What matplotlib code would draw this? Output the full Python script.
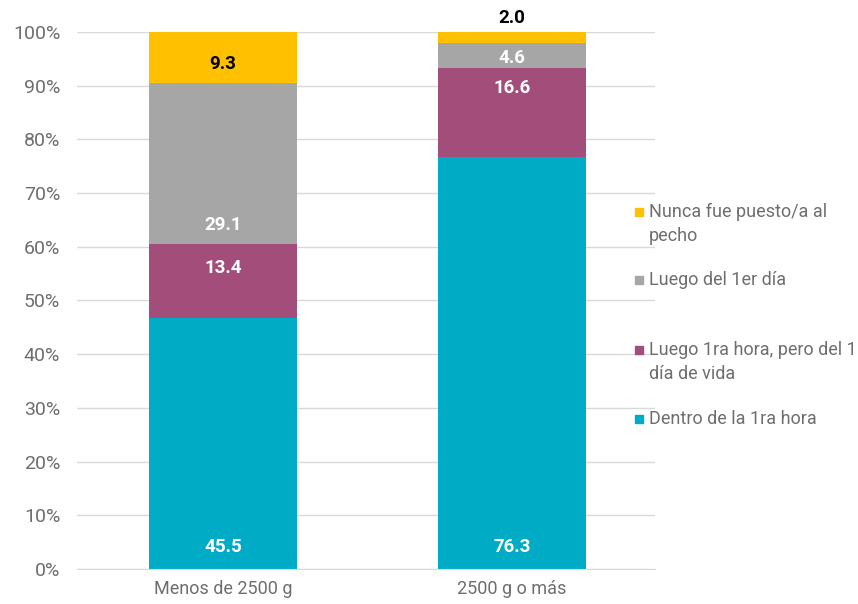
import matplotlib
matplotlib.use('Agg')
import matplotlib.pyplot as plt
from matplotlib.patches import Rectangle
import numpy as np

plt.rcParams['font.family'] = ['Roboto', 'DejaVu Sans']

categories = ['Menos de 2500 g', '2500 g o más']
series = ['Dentro de la 1ra hora',
          'Luego 1ra hora, pero del 1\ndía de vida',
          'Luego del 1er día',
          'Nunca fue puesto/a al\npecho']
dentro = [45.5, 76.3]
luego_hora = [13.4, 16.6]
luego_dia = [29.1, 4.6]
nunca = [9.3, 2.0]
colors = ['#00ABC6', '#A34D7A', '#A6A6A6', '#FFC000']
label_colors = ['white', 'white', 'white', 'black']

# where each value label sits, in % of the axis (per series, per bar)
label_y = [[4, 4], [56, 89.5], [64, 95.2], [94, 102.6]]

values = np.array([dentro, luego_hora, luego_dia, nunca])
shares = values / values.sum(axis=0) * 100

fig = plt.figure(figsize=(8.58, 6.04), dpi=100)
ax = fig.add_axes([0.0897, 0.058, 0.6737, 0.889])

x = np.arange(len(categories))
bottom = np.zeros(len(categories))
for i, name in enumerate(series):
    ax.bar(x + 0.005, shares[i], 0.51, bottom=bottom, color=colors[i], zorder=2)
    for j in range(len(categories)):
        ax.text(x[j] + 0.005, label_y[i][j], f'{values[i][j]:.1f}', ha='center',
                va='center', fontsize=13.5, fontweight='bold',
                color=label_colors[i], zorder=3, clip_on=False)
    bottom += shares[i]

ax.set_xlim(-0.5, 1.5)
ax.set_ylim(0, 100)
ax.set_yticks(np.arange(0, 101, 10))
ax.set_yticklabels([f'{v}%' for v in range(0, 101, 10)])
ax.set_xticks(x + 0.005)
ax.set_xticklabels(categories)
ax.tick_params(axis='both', length=0, labelsize=14, colors='#6E6E6E')
ax.tick_params(axis='x', labelsize=13, pad=8)
ax.tick_params(axis='y', pad=12)
ax.grid(axis='y', color='#D9D9D9', linewidth=1, zorder=0)
for s in ['top', 'right', 'left']:
    ax.spines[s].set_visible(False)
ax.spines['bottom'].set_color('#D9D9D9')
ax.spines['bottom'].set_zorder(4)

# legend, drawn by hand (top to bottom: last series first)
leg_y = [212, 280, 350, 419]
for k, i in enumerate(range(len(series) - 1, -1, -1)):
    yf = 1 - leg_y[k] / 604
    fig.patches.append(Rectangle((635 / 858, yf - 4 / 604), 8 / 858, 8 / 604,
                                 transform=fig.transFigure, color=colors[i]))
    fig.text(649 / 858, yf + 9 / 604, series[i], ha='left', va='top',
             fontsize=13, color='#6E6E6E', linespacing=1.45)

fig.savefig('out.png', dpi=100)
